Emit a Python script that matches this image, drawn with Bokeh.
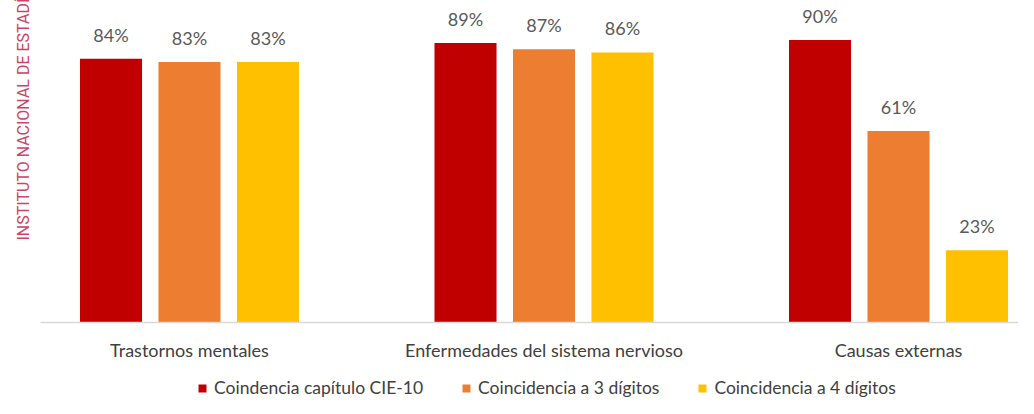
from bokeh.plotting import figure
from bokeh.layouts import column
from bokeh.models import (ColumnDataSource, Range1d, FixedTicker, Legend, LegendItem, Title)
from bokeh.transform import dodge
from bokeh.core.properties import value
from bokeh.embed import file_html
from bokeh.resources import INLINE

categories = ["Trastornos mentales", "Enfermedades del sistema nervioso", "Causas externas"]
series_names = ["Coindencia capítulo CIE-10", "Coincidencia a 3 dígitos", "Coincidencia a 4 dígitos"]
capitulo = [84, 89, 90]
tres_digitos = [83, 87, 61]
cuatro_digitos = [83, 86, 23]
colors = ["#C00000", "#ED7D31", "#FFC000"]

FONT = "Lato"

src = ColumnDataSource(dict(
    x=list(range(len(categories))),
    s0=capitulo, s1=tres_digitos, s2=cuatro_digitos,
    l0=[f"{v}%" for v in capitulo],
    l1=[f"{v}%" for v in tres_digitos],
    l2=[f"{v}%" for v in cuatro_digitos],
))

p = figure(width=1018, height=366, output_backend="svg", toolbar_location=None,
           x_range=Range1d(-0.4203, 2.3385), y_range=Range1d(0, 100),
           min_border_left=40, min_border_right=0, min_border_top=8, min_border_bottom=44)
p.outline_line_color = None
p.background_fill_color = "white"
p.border_fill_color = "white"
p.xgrid.visible = False
p.ygrid.visible = False
p.yaxis.visible = False

offsets = [-0.2214, 0.0, 0.2214]
for i, off in enumerate(offsets):
    p.vbar(x=dodge("x", off, range=p.x_range), top=f"s{i}", width=0.175,
           bottom=0, source=src, fill_color=colors[i], line_color=None)
    p.text(x=dodge("x", off, range=p.x_range), y=f"s{i}", text=f"l{i}", source=src,
           text_align="center", text_baseline="alphabetic", y_offset=-24,
           text_font=value(FONT), text_font_size="18px", text_color="#595959")

xa = p.xaxis[0]
xa.ticker = FixedTicker(ticks=list(range(len(categories))))
xa.major_label_overrides = {i: c for i, c in enumerate(categories)}
xa.major_tick_line_color = None
xa.minor_tick_line_color = None
xa.axis_line_color = "#d9d9d9"
xa.axis_line_width = 1.5
xa.major_label_standoff = 10
xa.major_label_text_font = FONT
xa.major_label_text_font_size = "18px"
xa.major_label_text_color = "#404040"

wm = Title(text="INSTITUTO NACIONAL DE ESTADÍSTICA", align="left", offset=82,
           text_font="Roboto", text_font_size="16px", text_font_style="normal",
           text_color="#cc4466", standoff=16)
p.add_layout(wm, "left")

# legend strip
lg = figure(width=1018, height=32, output_backend="svg", toolbar_location=None,
            x_axis_location=None, y_axis_location=None,
            x_range=Range1d(0, 1), y_range=Range1d(0, 1),
            min_border_left=0, min_border_right=0, min_border_top=0, min_border_bottom=0)
lg.outline_line_color = None
lg.xgrid.visible = False
lg.ygrid.visible = False
items = []
for i in range(len(series_names)):
    r = lg.vbar(x=[0.5], top=[0], bottom=[0], width=0.1, fill_color=colors[i], line_color=None)
    items.append(LegendItem(label=series_names[i], renderers=[r]))
legend = Legend(items=items, orientation="horizontal", location=(157, 0),
                glyph_width=10, glyph_height=10, label_standoff=7, spacing=38,
                label_text_font=FONT, label_text_font_size="17.5px", label_text_color="#404040",
                border_line_color=None, background_fill_alpha=0, padding=1, margin=0)
lg.add_layout(legend, "center")

layout = column(p, lg, spacing=0)
open("out.html", "w").write(file_html(layout, INLINE))
